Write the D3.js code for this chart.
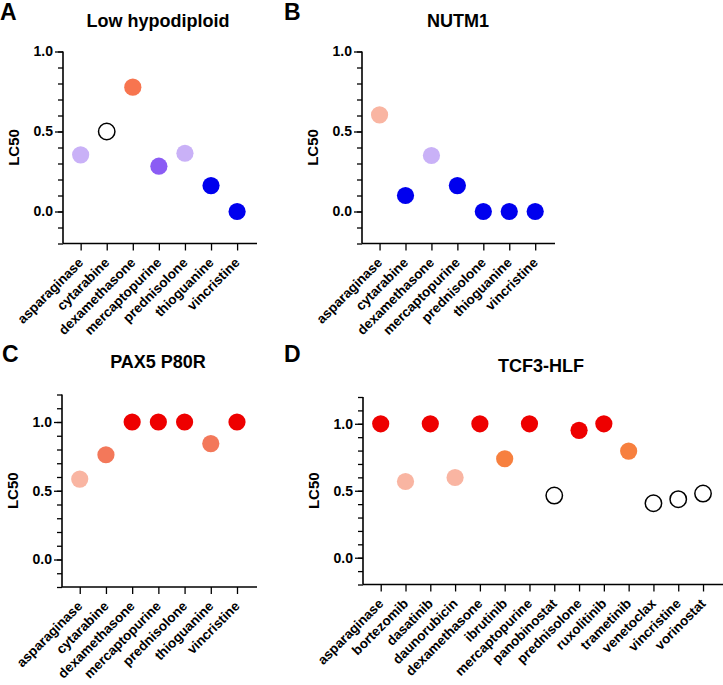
<!DOCTYPE html>
<html><head><meta charset="utf-8">
<script src="https://cdn.jsdelivr.net/npm/d3@7"></script>
<style>
body{margin:0;background:#fff;}
text{font-family:"Liberation Sans",Arial,sans-serif;font-weight:bold;fill:#000;}
</style></head>
<body><svg id="c" width="723" height="685"></svg>
<script>
// Panel A: Low hypodiploid
const drugsA = ["asparaginase","cytarabine","dexamethasone","mercaptopurine","prednisolone","thioguanine","vincristine"];
const valuesA = [0.354, 0.5, 0.777, 0.283, 0.364, 0.162, 0.0];
const colorsA = ["#c9b1f7","open","#f7754f","#8b5cf4","#c9b1f7","#0000ee","#0000ee"];
// Panel B: NUTM1
const drugsB = ["asparaginase","cytarabine","dexamethasone","mercaptopurine","prednisolone","thioguanine","vincristine"];
const valuesB = [0.604, 0.1, 0.35, 0.162, 0.0, 0.0, 0.0];
const colorsB = ["#f9b5a2","#0000ee","#c9b1f7","#0000ee","#0000ee","#0000ee","#0000ee"];
// Panel C: PAX5 P80R
const drugsC = ["asparaginase","cytarabine","dexamethasone","mercaptopurine","prednisolone","thioguanine","vincristine"];
const valuesC = [0.585, 0.762, 1.0, 1.0, 1.0, 0.843, 1.0];
const colorsC = ["#f9b5a2","#f3785a","#ee0000","#ee0000","#ee0000","#f3785a","#ee0000"];
// Panel D: TCF3-HLF
const drugsD = ["asparaginase","bortezomib","dasatinib","daunorubicin","dexamethasone","ibrutinib","mercaptopurine","panobinostat","prednisolone","ruxolitinib","trametinib","venetoclax","vincristine","vorinostat"];
const valuesD = [1.0, 0.569, 1.0, 0.599, 1.0, 0.739, 1.0, 0.464, 0.951, 1.0, 0.796, 0.407, 0.437, 0.479];
const colorsD = ["#ee0000","#f9b5a2","#ee0000","#f9b5a2","#ee0000","#f7803f","#ee0000","open","#ee0000","#ee0000","#f7803f","open","open","open"];
const yTicksMajor = [0, 0.5, 1.0];
const yLabel = "LC50";

const svg = d3.select("#c");
const FF = '"Liberation Sans",Arial,sans-serif';

const panels = [
  {letter:"A", title:"Low hypodiploid", drugs:drugsA, values:valuesA, colors:colorsA,
   lx:0, ly:20, tx:158, ty:27, x0:63, x1:257, yDom:[-0.2,1.0], yR:[243.5,51.5], pad:0.72},
  {letter:"B", title:"NUTM1", drugs:drugsB, values:valuesB, colors:colorsB,
   lx:284, ly:20, tx:458, ty:27, x0:362, x1:555, yDom:[-0.2,1.0], yR:[243.5,51.5], pad:0.72},
  {letter:"C", title:"PAX5 P80R", drugs:drugsC, values:valuesC, colors:colorsC,
   lx:2, ly:362, tx:158, ty:368, x0:62, x1:257, yDom:[-0.2,1.2], yR:[587,394.5], pad:0.72},
  {letter:"D", title:"TCF3-HLF", drugs:drugsD, values:valuesD, colors:colorsD,
   lx:284, ly:362, tx:541, ty:372, x0:363, x1:723, yDom:[-0.2,1.2], yR:[584.5,397], pad:0.76}
];

panels.forEach(p => {
  const g = svg.append("g");
  g.append("text").attr("x", p.lx).attr("y", p.ly).attr("font-size", 23).text(p.letter);
  g.append("text").attr("x", p.tx).attr("y", p.ty).attr("font-size", 18)
    .attr("text-anchor","middle").text(p.title);

  const x = d3.scalePoint().domain(p.drugs).range([p.x0, p.x1]).padding(p.pad).align(0.47);
  const y = d3.scaleLinear().domain(p.yDom).range(p.yR);

  const minor = d3.range(Math.round(p.yDom[0]*10), Math.round(p.yDom[1]*10)+1).map(v => v/10);
  const yAxisMinor = d3.axisLeft(y).tickValues(minor).tickSize(5).tickFormat("");
  const gm = g.append("g").attr("transform", `translate(${p.x0},0)`).call(yAxisMinor);
  gm.select(".domain").remove();
  gm.selectAll("line").attr("stroke","#000").attr("stroke-width",1.3);

  const yAxis = d3.axisLeft(y).tickValues(yTicksMajor).tickSize(8).tickPadding(2).tickFormat(d3.format(".1f"));
  const gy = g.append("g").attr("transform", `translate(${p.x0},0)`).call(yAxis);
  gy.select(".domain").attr("stroke","#000").attr("stroke-width",1.6).attr("d", `M0,${p.yR[0]}V${p.yR[1]}`);
  gy.selectAll("line").attr("stroke","#000").attr("stroke-width",1.3);
  gy.selectAll("text").attr("font-size",14).attr("font-family",FF).attr("font-weight","bold").attr("fill","#000");

  const xAxis = d3.axisBottom(x).tickSize(7).tickSizeOuter(0);
  const gx = g.append("g").attr("transform", `translate(0,${p.yR[0]})`).call(xAxis);
  gx.select(".domain").attr("stroke","#000").attr("stroke-width",1.6).attr("d", `M${p.x0},0H${p.x1}`);
  gx.selectAll("line").attr("stroke","#000").attr("stroke-width",1.3);
  gx.selectAll("text").attr("font-size",13.5).attr("font-family",FF).attr("font-weight","bold").attr("fill","#000")
    .attr("text-anchor","end").attr("y",0).attr("dy",0)
    .attr("transform","translate(3,20) rotate(-45)");

  g.append("text").attr("font-size",15).attr("text-anchor","middle")
    .attr("transform", `translate(${p.x0-44},${(p.yR[0]+p.yR[1])/2}) rotate(-90)`).text(yLabel);

  g.selectAll("circle.pt").data(p.drugs).join("circle").attr("class","pt")
    .attr("cx", d => x(d))
    .attr("cy", (d,i) => y(p.values[i]))
    .attr("r", (d,i) => p.colors[i]==="open" ? 8.2 : 8.6)
    .attr("fill", (d,i) => p.colors[i]==="open" ? "#fff" : p.colors[i])
    .attr("stroke", (d,i) => p.colors[i]==="open" ? "#000" : "none")
    .attr("stroke-width", 1.5);
});
</script></body></html>
